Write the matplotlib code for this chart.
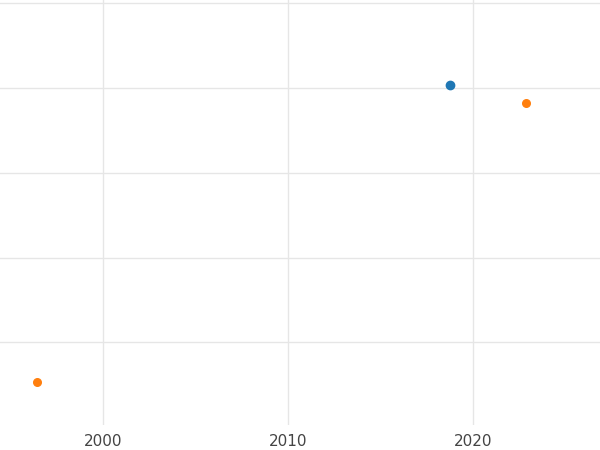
import matplotlib
matplotlib.use("Agg")
import matplotlib.pyplot as plt

blue_x = [2018.76]
blue_y = [3.04]
orange_x = [2022.86, 1996.43]
orange_y = [2.82, -0.47]
x_ticks = [2000, 2010, 2020]
y_ticks = [0, 1, 2, 3, 4]

fig = plt.figure(figsize=(6, 4.5), dpi=100)
ax = fig.add_axes([0, 0.055, 1, 0.945])
ax.scatter(blue_x, blue_y, s=36, color="#1f77b4", zorder=3)
ax.scatter(orange_x, orange_y, s=30, color="#ff7f0e", zorder=3)
ax.set_xlim(1994.43, 2026.86)
ax.set_ylim(-0.98, 4.04)
ax.set_xticks(x_ticks)
ax.set_yticks(y_ticks)
ax.set_yticklabels([])
ax.grid(True, color="#e6e6e6", linewidth=1)
ax.set_axisbelow(True)
ax.tick_params(length=0, labelsize=11, labelcolor="#444444", pad=6)
for s in ax.spines.values():
    s.set_visible(False)
fig.savefig("out.png", dpi=100)
